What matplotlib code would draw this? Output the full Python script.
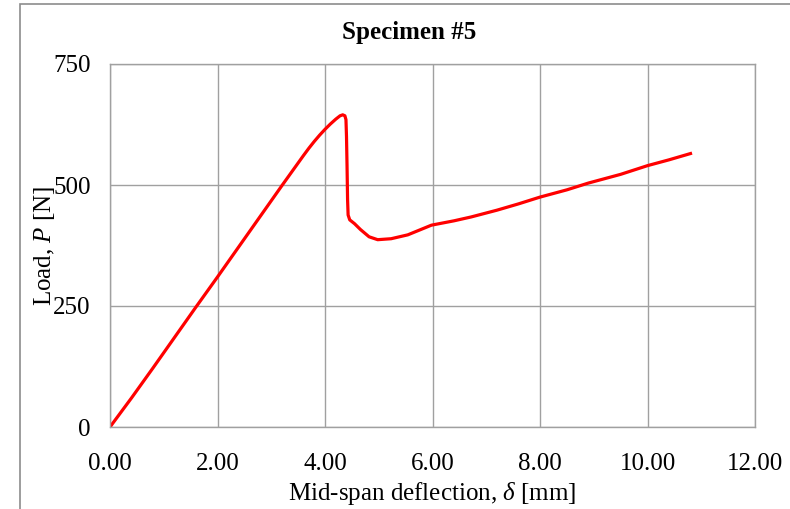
import matplotlib
matplotlib.use('Agg')
from matplotlib import pyplot as plt
from matplotlib.patches import Rectangle

# 跨中挠度 (mm) 与 荷载 (N)
deflection = [0.00, 0.40, 0.80, 1.20, 1.60, 2.00, 2.40, 2.80, 3.20, 3.40, 3.60,
              3.70, 3.80, 3.90, 4.00, 4.10, 4.20, 4.28, 4.33, 4.37, 4.39, 4.40,
              4.41, 4.42, 4.43, 4.46, 4.55, 4.66, 4.82, 4.98, 5.23, 5.54, 5.98,
              6.40, 6.72, 7.20, 7.60, 8.00, 8.50, 8.90, 9.50, 10.00, 10.40, 10.80]
load = [0, 60, 122, 185, 248, 310, 373, 436, 499, 530, 561,
        576, 590, 603, 615, 626, 636, 643, 645, 643, 635, 600,
        540, 470, 438, 428, 420, 408, 393, 387, 389, 397, 417,
        426, 434, 448, 461, 475, 490, 504, 522, 540, 552, 565]

x_ticks = [0, 2, 4, 6, 8, 10, 12]
y_ticks = [0, 250, 500, 750]

plt.rcParams['font.family'] = ['Liberation Serif', 'DejaVu Serif']
plt.rcParams['mathtext.fontset'] = 'custom'
plt.rcParams['mathtext.rm'] = 'Liberation Serif'
plt.rcParams['mathtext.it'] = 'Liberation Serif:italic'

fig = plt.figure(figsize=(7.9, 5.09), dpi=100)
ax = fig.add_axes([110 / 790, 82 / 509, 645 / 790, 363 / 509])

ax.plot(deflection, load, c='#ff0000', lw=2.3, solid_joinstyle='round')

ax.set_xlim(0, 12)
ax.set_ylim(0, 750)
ax.set_xticks(x_ticks)
ax.set_xticklabels(['%.2f' % v for v in x_ticks])
ax.set_yticks(y_ticks)
ax.grid(True, color='#a0a0a0', lw=1.0)
ax.set_axisbelow(True)
for s in ax.spines.values():
    s.set_color('#a0a0a0')
    s.set_linewidth(1.0)
ax.tick_params(axis='both', length=0, labelsize=18)
ax.tick_params(axis='x', pad=19)
ax.tick_params(axis='y', pad=14)

# 设置图形格式
ax.set_xlabel(r'Mid-span deflection, $\delta$ [mm]', fontsize=18, labelpad=3)
ax.set_ylabel(r'Load, $P$ [N]', fontsize=18, va='center')
ax.yaxis.set_label_coords(-0.102, 0.5)
fig.text(0.518, 1 - 32 / 509, 'Specimen #5', fontsize=18, fontweight='bold',
         ha='center', va='center')

# 图表外框
fig.add_artist(Rectangle((20 / 790, -0.1), 1.2, 0.1 + 1 - 4.3 / 509,
                         transform=fig.transFigure, fill=False,
                         ec='#8c8c8c', lw=1.2))

fig.savefig('out.png', dpi=100)
